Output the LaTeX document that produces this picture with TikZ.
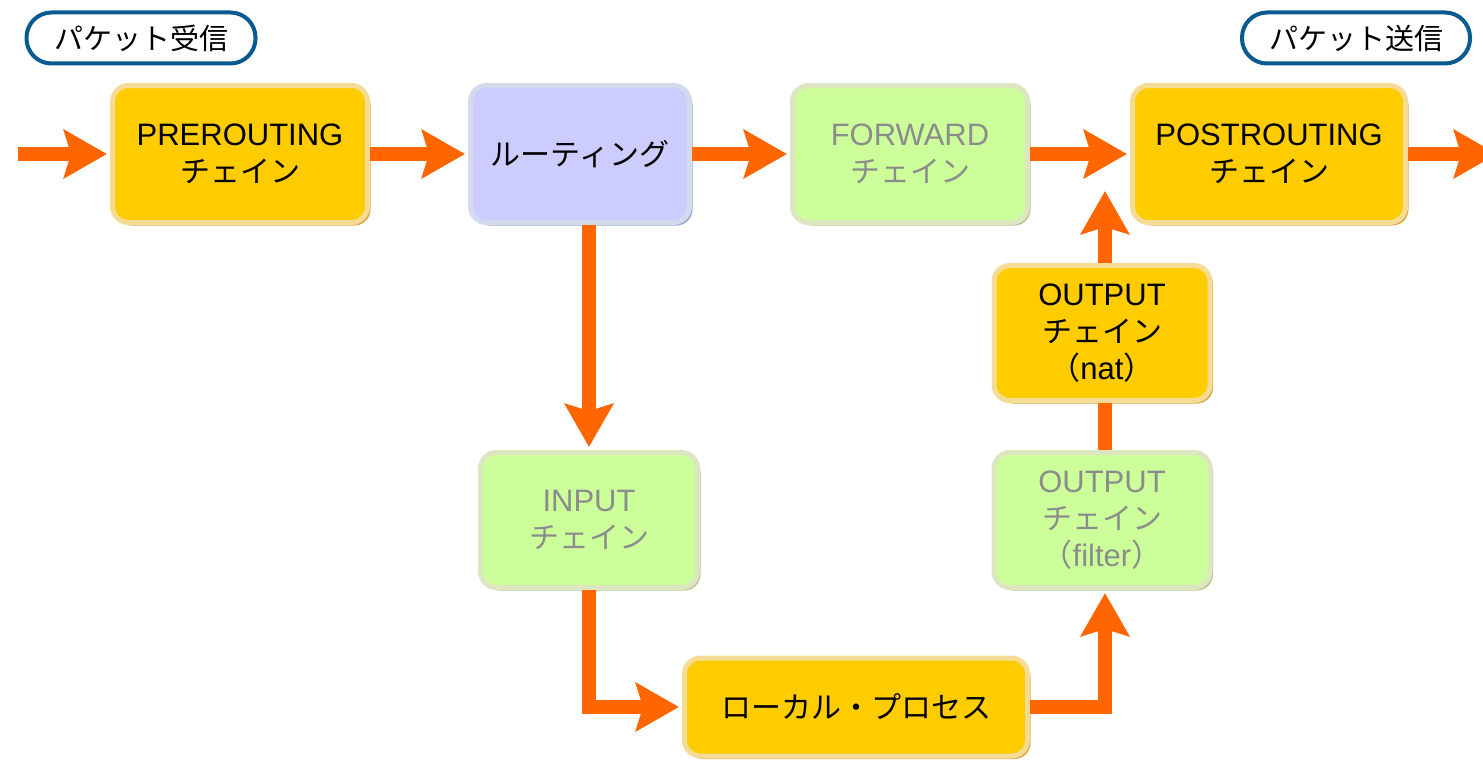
\documentclass[tikz,border=0pt]{standalone}
\usepackage{fontspec}
\setmainfont{Liberation Sans}
\newfontfamily\jp{Noto Sans CJK JP}
\usetikzlibrary{arrows.meta,shadows,calc}

\definecolor{arr}{HTML}{FF6600}
\definecolor{orfill}{HTML}{FFCC00}
\definecolor{orlite}{HTML}{F5DC96}
\definecolor{ordark}{HTML}{DCA844}
\definecolor{pufill}{HTML}{CCCCFF}
\definecolor{pulite}{HTML}{D4DAEC}
\definecolor{pudark}{HTML}{90A8CC}
\definecolor{grfill}{HTML}{CCFF99}
\definecolor{grlite}{HTML}{DCE6C0}
\definecolor{grdark}{HTML}{BCC48C}
\definecolor{grtext}{HTML}{8C8C8C}
\definecolor{pillblue}{HTML}{0A5A92}

\tikzset{
  chainbox/.style={rounded corners=16pt, line width=5pt, align=center, inner sep=0pt,
    font=\fontsize{31}{37}\selectfont},
  orbox/.style={chainbox, fill=orfill, draw=orlite,
    drop shadow={shadow xshift=3pt, shadow yshift=-3pt, fill=ordark, opacity=1}},
  pubox/.style={chainbox, fill=pufill, draw=pulite,
    drop shadow={shadow xshift=3pt, shadow yshift=-3pt, fill=pudark, opacity=1}},
  grbox/.style={chainbox, fill=grfill, draw=grlite, text=grtext,
    drop shadow={shadow xshift=3pt, shadow yshift=-3pt, fill=grdark, opacity=1}},
  pill/.style={rounded corners=25pt, draw=pillblue, line width=4pt, fill=white,
    inner sep=0pt, font=\jp\fontsize{29}{34}\selectfont},
  flow/.style={draw=arr, line width=14pt,
    -{Stealth[width=48pt,length=43pt,inset=7pt]}, shorten >=3pt},
  flowline/.style={draw=arr, line width=14pt}
}

\begin{document}
\begin{tikzpicture}[x=1pt,y=-1pt]
\useasboundingbox (0,0) rectangle (1483,760);
\clip (0,0) rectangle (1483,760);

% pills
\node[pill, minimum width=229pt, minimum height=51pt] (rx) at (141,38) {パケット受信};
\node[pill, minimum width=228pt, minimum height=51pt] (tx) at (1356,38) {パケット送信};

% boxes
\node[orbox, minimum width=255pt, minimum height=137pt] (pre) at (240,154)
  {PREROUTING\\{\jp\fontsize{30}{37}\selectfont チェイン}};
\node[pubox, minimum width=219pt, minimum height=137pt] (rout) at (580,154)
  {{\jp\fontsize{30}{37}\selectfont ルーティング}};
\node[grbox, minimum width=235pt, minimum height=137pt] (fwd) at (910,154)
  {FORWARD\\{\jp\fontsize{30}{37}\selectfont チェイン}};
\node[orbox, minimum width=273pt, minimum height=137pt] (post) at (1269,154)
  {POSTROUTING\\{\jp\fontsize{30}{37}\selectfont チェイン}};
\node[orbox, minimum width=216pt, minimum height=135pt] (nat) at (1102,333)
  {OUTPUT\\{\jp\fontsize{30}{37}\selectfont チェイン}\\{\jp （}nat{\jp ）}};
\node[grbox, minimum width=216pt, minimum height=135pt] (filt) at (1102,520)
  {OUTPUT\\{\jp\fontsize{30}{37}\selectfont チェイン}\\{\jp （}filter{\jp ）}};
\node[grbox, minimum width=217pt, minimum height=135pt] (inp) at (589,520)
  {INPUT\\{\jp\fontsize{30}{37}\selectfont チェイン}};
\node[orbox, minimum width=343pt, minimum height=98pt] (local) at (856,707)
  {{\jp\fontsize{30}{37}\selectfont ローカル・プロセス}};

% connectors
\coordinate (in) at (18,154);
\coordinate (out) at (1500,154);
\coordinate (up) at (1105,188);
\draw[flow] (in) -- (pre.west);
\draw[flow] (pre.east) -- (rout.west);
\draw[flow] (rout.east) -- (fwd.west);
\draw[flow] (fwd.east) -- (post.west);
\draw[flow] (post.east) -- (out);
\draw[flow] (inp.north |- rout.south) -- (inp.north);
\draw[flow] (inp.south) |- (local.west);
\draw[flow] (local.east) -| ([xshift=3pt]filt.south);
\draw[flowline] ([xshift=3pt]filt.north) -- ([xshift=3pt]nat.south);
\draw[flow] ([xshift=3pt]nat.north) -- (up);
\end{tikzpicture}
\end{document}
